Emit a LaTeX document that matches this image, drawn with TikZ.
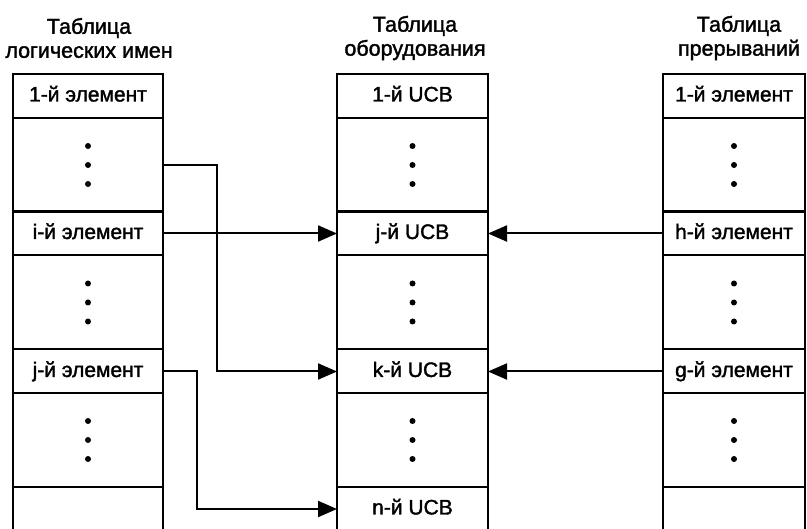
\documentclass[tikz,border=0pt]{standalone}
\usepackage{fontspec}
\setmainfont{Liberation Sans}[FakeBold=1.6]
\usetikzlibrary{arrows.meta}
\begin{document}
\begin{tikzpicture}[x=1pt,y=-1pt,
  every node/.style={font=\fontsize{21}{24}\selectfont, inner sep=0pt, outer sep=0pt},
  cellL/.style={draw, line width=2pt, minimum width=150pt, text height=15pt, text depth=4pt},
  cellM/.style={draw, line width=2pt, minimum width=151pt, text height=15pt, text depth=4pt},
  cellR/.style={draw, line width=2pt, minimum width=142pt, text height=15pt, text depth=4pt},
  rowA/.style={minimum height=44pt},
  rowB/.style={minimum height=94pt},
  head/.style={align=center, font=\fontsize{21.5}{24}\selectfont},
  arr/.style={line width=2pt, -{Triangle[length=19pt,width=16pt]}},
  vdots/.pic={\fill (0,-19) circle (3pt); \fill (0,0) circle (3pt); \fill (0,19) circle (3pt);}
]
\path[use as bounding box, clip] (0,0) rectangle (807,529);

% headers
\node[head] (hL) at (89,38) {Таблица\\логических имен};
\node[head] (hM) at (415,38) {Таблица\\оборудования};
\node[head] (hR) at (739,38) {Таблица\\прерываний};

% left table
\node[cellL,rowA] (L1) at (88,96) {1-й элемент};
\node[cellL,rowB] (Ld1) at (88,165) {};
\node[cellL,rowA] (Li) at (88,233.5) {i-й элемент};
\node[cellL,rowB] (Ld2) at (88,302.5) {};
\node[cellL,rowA] (Lj) at (88,371.5) {j-й элемент};
\node[cellL,rowB] (Ld3) at (88,440) {};
\node[cellL,minimum height=60pt] (Ll) at (88,517) {};

% middle table
\node[cellM,rowA] (M1) at (412.5,96) {1-й UCB};
\node[cellM,rowB] (Md1) at (412.5,165) {};
\node[cellM,rowA] (Mj) at (412.5,233.5) {j-й UCB};
\node[cellM,rowB] (Md2) at (412.5,302.5) {};
\node[cellM,rowA] (Mk) at (412.5,371.5) {k-й UCB};
\node[cellM,rowB] (Md3) at (412.5,440) {};
\node[cellM,minimum height=44pt] (Mn) at (412.5,509) {n-й UCB};

% right table
\node[cellR,rowA] (R1) at (734,96) {1-й элемент};
\node[cellR,rowB] (Rd1) at (734,165) {};
\node[cellR,rowA] (Rh) at (734,233.5) {h-й элемент};
\node[cellR,rowB] (Rd2) at (734,302.5) {};
\node[cellR,rowA] (Rg) at (734,371.5) {g-й элемент};
\node[cellR,rowB] (Rd3) at (734,440) {};
\node[cellR,minimum height=60pt] (Rl) at (734,517) {};

% dots
\foreach \n in {Ld1,Ld2,Ld3,Md1,Md2,Md3,Rd1,Rd2,Rd3}
  \pic at (\n.center) {vdots};

% connectors
\draw[arr] (Li.east) -- (Mj.west);
\draw[arr] (Ld1.east) -- ++(54,0) |- (Mk.west);
\draw[arr] (Lj.east) -- ++(34,0) |- (Mn.west);
\draw[arr] (Rh.west) -- (Mj.east);
\draw[arr] (Rg.west) -- (Mk.east);
\end{tikzpicture}
\end{document}
